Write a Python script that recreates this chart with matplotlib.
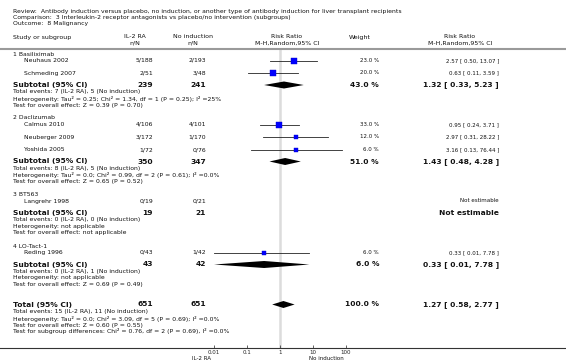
import numpy as np
import matplotlib
matplotlib.use('Agg')
import matplotlib.pyplot as plt
from matplotlib.lines import Line2D
from matplotlib.patches import Polygon

W, H = 566, 364

title_lines = [
    "Review:  Antibody induction versus placebo, no induction, or another type of antibody induction for liver transplant recipients",
    "Comparison:  3 Interleukin-2 receptor antagonists vs placebo/no intervention (subgroups)",
    "Outcome:  8 Malignancy",
]

# study level data
groups = ["1 Basiliximab", "2 Daclizumab", "3 BT563", "4 LO-Tact-1"]
studies = [["Neuhaus 2002", "Schmeding 2007"],
           ["Calmus 2010", "Neuberger 2009", "Yoshida 2005"],
           ["Langrehr 1998"],
           ["Reding 1996"]]
ev_il2 = [[5, 2], [4, 3, 1], [0], [0]]
n_il2 = [[188, 51], [106, 172, 72], [19], [43]]
ev_ctrl = [[2, 3], [4, 1, 0], [0], [1]]
n_ctrl = [[193, 48], [101, 170, 76], [21], [42]]
rr = [[2.57, 0.63], [0.95, 2.97, 3.16], [None], [0.33]]
rr_lo = [[0.50, 0.11], [0.24, 0.31, 0.13], [None], [0.01]]
rr_hi = [[13.07, 3.59], [3.71, 28.22, 76.44], [None], [7.78]]
weights = [[23.0, 20.0], [33.0, 12.0, 6.0], [None], [6.0]]

# subgroup totals
sub_n_il2 = [239, 350, 19, 43]
sub_n_ctrl = [241, 347, 21, 42]
sub_rr = [1.32, 1.43, None, 0.33]
sub_lo = [0.33, 0.48, None, 0.01]
sub_hi = [5.23, 4.28, None, 7.78]
sub_w = [43.0, 51.0, None, 6.0]
sub_stats = [
    ["Total events: 7 (IL-2 RA), 5 (No induction)",
     "Heterogeneity: Tau\u00b2 = 0.25; Chi\u00b2 = 1.34, df = 1 (P = 0.25); I\u00b2 =25%",
     "Test for overall effect: Z = 0.39 (P = 0.70)"],
    ["Total events: 8 (IL-2 RA), 5 (No induction)",
     "Heterogeneity: Tau\u00b2 = 0.0; Chi\u00b2 = 0.99, df = 2 (P = 0.61); I\u00b2 =0.0%",
     "Test for overall effect: Z = 0.65 (P = 0.52)"],
    ["Total events: 0 (IL-2 RA), 0 (No induction)",
     "Heterogeneity: not applicable",
     "Test for overall effect: not applicable"],
    ["Total events: 0 (IL-2 RA), 1 (No induction)",
     "Heterogeneity: not applicable",
     "Test for overall effect: Z = 0.69 (P = 0.49)"],
]

# overall
tot_n = [651, 651]
tot_rr, tot_lo, tot_hi = 1.27, 0.58, 2.77
tot_stats = ["Total events: 15 (IL-2 RA), 11 (No induction)",
             "Heterogeneity: Tau\u00b2 = 0.0; Chi\u00b2 = 3.09, df = 5 (P = 0.69); I\u00b2 =0.0%",
             "Test for overall effect: Z = 0.60 (P = 0.55)",
             "Test for subgroup differences: Chi\u00b2 = 0.76, df = 2 (P = 0.69), I\u00b2 =0.0%"]

ticks = [0.01, 0.1, 1, 10, 100]
tick_labels = ["0.01", "0.1", "1", "10", "100"]

fig = plt.figure(figsize=(W / 100, H / 100), dpi=100)
plt.rcParams['font.family'] = 'DejaVu Sans'


def txt(x, y, s, size=4.4, ha='left', bold=False, **kw):
    fig.text(x / W, 1 - y / H, s, fontsize=size, ha=ha, va='center',
             fontweight='bold' if bold else 'normal', color='#111111', **kw)


def hline(y, x0, x1, color, lw):
    fig.add_artist(Line2D([x0 / W, x1 / W], [1 - y / H, 1 - y / H],
                          color=color, lw=lw, transform=fig.transFigure))


# forest axes, log scale, y in pixel rows
ax = fig.add_axes([181 / W, 1 - 347.5 / H, 198 / W, 297.5 / H])
ax.set_xscale('log')
ax.set_xlim(1e-3, 1e3)
ax.set_ylim(347.5, 50)
for sp in ax.spines.values():
    sp.set_visible(False)
ax.patch.set_alpha(0)
ax.set_yticks([])
ax.set_xticks(ticks)
ax.set_xticklabels(tick_labels)
ax.minorticks_off()
ax.tick_params(axis='x', direction='in', length=2, width=0.5, labelsize=4,
               pad=1.5, colors='#222222')
ax.axvline(1, color='#dcdcdc', lw=1.8, zorder=0)

# title and header
for i, line in enumerate(title_lines):
    txt(13, 12 + 6 * i, line)
txt(13, 37, "Study or subgroup", size=4.5)
txt(135, 37, "IL-2 RA", ha='center', size=4.5)
txt(135, 43, "n/N", ha='center', size=4.5)
txt(193, 37, "No induction", ha='center', size=4.5)
txt(193, 43, "n/N", ha='center', size=4.5)
txt(287, 37, "Risk Ratio", ha='center', size=4.5)
txt(287, 43, "M-H,Random,95% CI", ha='center', size=4.5)
txt(360, 37, "Weight", ha='center', size=4.5)
txt(460, 37, "Risk Ratio", ha='center', size=4.5)
txt(460, 43, "M-H,Random,95% CI", ha='center', size=4.5)
hline(49, 0, W, '#9a9a9a', 1.5)


def diamond(y, m, lo, hi, h=3.5):
    ax.add_patch(Polygon([(lo, y), (m, y - h), (hi, y), (m, y + h)],
                         closed=True, color='black', lw=0))


y = 54
for g in range(len(groups)):
    txt(13, y, groups[g])
    y += 6.5
    for k, name in enumerate(studies[g]):
        txt(24, y, name)
        txt(153, y, f"{ev_il2[g][k]}/{n_il2[g][k]}", ha='right')
        txt(206, y, f"{ev_ctrl[g][k]}/{n_ctrl[g][k]}", ha='right')
        if rr[g][k] is None:
            txt(499, y, "Not estimable", ha='right', size=4)
        else:
            ax.plot([rr_lo[g][k], rr_hi[g][k]], [y, y], color='#222222', lw=0.6)
            side = (np.sqrt(weights[g][k]) + 0.8) * 0.72
            ax.plot([rr[g][k]], [y], marker='s', ms=side, mfc='#0000ff',
                    mec='#0000cc', mew=0.3)
            txt(379, y, f"{weights[g][k]:.1f} %", ha='right', size=4)
            txt(499, y, f"{rr[g][k]:.2f} [ {rr_lo[g][k]:.2f}, {rr_hi[g][k]:.2f} ]",
                ha='right', size=4)
        if k < len(studies[g]) - 1:
            y += 12.5
    y += 12
    txt(13, y, "Subtotal (95% CI)", size=5.4, bold=True)
    txt(153, y, str(sub_n_il2[g]), ha='right', size=5.4, bold=True)
    txt(206, y, str(sub_n_ctrl[g]), ha='right', size=5.4, bold=True)
    if sub_rr[g] is None:
        txt(499, y, "Not estimable", ha='right', size=5.4, bold=True)
    else:
        diamond(y, sub_rr[g], sub_lo[g], sub_hi[g])
        txt(379, y, f"{sub_w[g]:.1f} %", ha='right', size=5.4, bold=True)
        txt(499, y, f"{sub_rr[g]:.2f} [ {sub_lo[g]:.2f}, {sub_hi[g]:.2f} ]",
            ha='right', size=5.4, bold=True)
    y += 7
    for s in sub_stats[g]:
        txt(13, y, s)
        y += 6.5
    y += 6.5

y += 7
txt(13, y, "Total (95% CI)", size=5.4, bold=True)
txt(153, y, str(tot_n[0]), ha='right', size=5.4, bold=True)
txt(206, y, str(tot_n[1]), ha='right', size=5.4, bold=True)
diamond(y, tot_rr, tot_lo, tot_hi)
txt(379, y, "100.0 %", ha='right', size=5.4, bold=True)
txt(499, y, f"{tot_rr:.2f} [ {tot_lo:.2f}, {tot_hi:.2f} ]", ha='right',
    size=5.4, bold=True)
y += 7.5
for s in tot_stats:
    txt(13, y, s)
    y += 6.5

hline(347.5, 0, W, '#333333', 0.8)
txt(201, 359, "IL-2 RA", ha='center', size=4)
txt(326, 359, "No induction", ha='center', size=4)

fig.savefig('out.png', dpi=100)
